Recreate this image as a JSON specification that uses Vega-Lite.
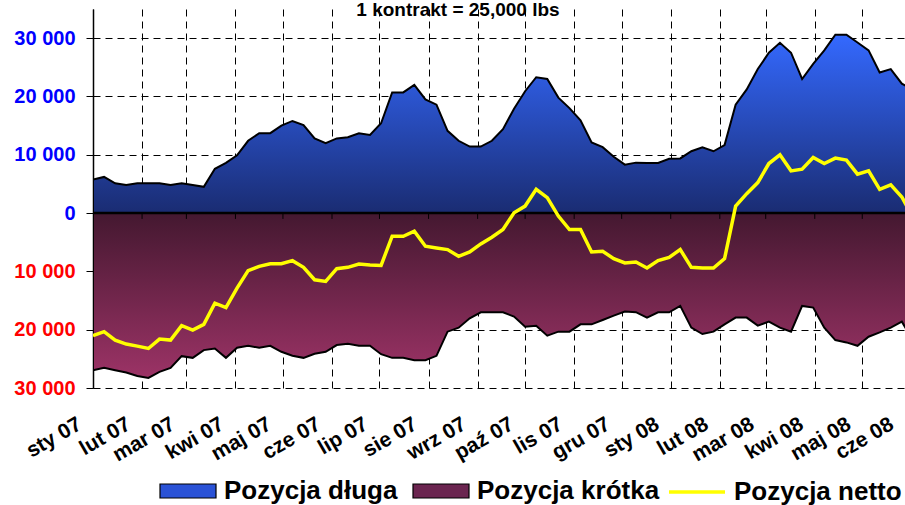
{
  "$schema": "https://vega.github.io/schema/vega-lite/v6.json",
  "width": 812,
  "height": 379,
  "autosize": {"type": "none"},
  "padding": {"left": 93, "top": 9, "right": 0, "bottom": 117},
  "background": "white",
  "config": {"view": {"stroke": null}, "font": "Liberation Sans"},
  "title": {"text": "1 kontrakt = 25,000 lbs", "fontSize": 19, "fontWeight": "bold", "color": "black", "font": "Liberation Sans", "anchor": "middle", "frame": "group", "baseline": "alphabetic", "offset": -26, "dx": -41},
  "datasets": {
    "cot": [
      {"d": "2007/01/01", "long": 5750, "short": -26950, "net": -21030},
      {"d": "2007/01/08", "long": 6200, "short": -26550, "net": -20340},
      {"d": "2007/01/15", "long": 5100, "short": -26950, "net": -21780},
      {"d": "2007/01/22", "long": 4800, "short": -27350, "net": -22470},
      {"d": "2007/01/29", "long": 5100, "short": -27930, "net": -22820},
      {"d": "2007/02/05", "long": 5100, "short": -28280, "net": -23220},
      {"d": "2007/02/12", "long": 5100, "short": -27240, "net": -21610},
      {"d": "2007/02/19", "long": 4800, "short": -26550, "net": -21780},
      {"d": "2007/02/26", "long": 5100, "short": -24540, "net": -19310},
      {"d": "2007/03/05", "long": 4800, "short": -24830, "net": -20060},
      {"d": "2007/03/12", "long": 4500, "short": -23500, "net": -19080},
      {"d": "2007/03/19", "long": 7600, "short": -23220, "net": -15460},
      {"d": "2007/03/26", "long": 8600, "short": -24830, "net": -16210},
      {"d": "2007/04/02", "long": 9900, "short": -23100, "net": -12870},
      {"d": "2007/04/09", "long": 12400, "short": -22760, "net": -9880},
      {"d": "2007/04/16", "long": 13700, "short": -23100, "net": -9140},
      {"d": "2007/04/23", "long": 13700, "short": -22760, "net": -8680},
      {"d": "2007/04/30", "long": 15000, "short": -23790, "net": -8680},
      {"d": "2007/05/07", "long": 15800, "short": -24480, "net": -8160},
      {"d": "2007/05/14", "long": 15100, "short": -24830, "net": -9310},
      {"d": "2007/05/21", "long": 12800, "short": -24140, "net": -11440},
      {"d": "2007/05/28", "long": 12000, "short": -23790, "net": -11720},
      {"d": "2007/06/04", "long": 12800, "short": -22640, "net": -9540},
      {"d": "2007/06/11", "long": 13000, "short": -22410, "net": -9310},
      {"d": "2007/06/18", "long": 13700, "short": -22760, "net": -8740},
      {"d": "2007/06/25", "long": 13400, "short": -22760, "net": -8900},
      {"d": "2007/07/02", "long": 15400, "short": -24200, "net": -8970},
      {"d": "2007/07/09", "long": 20700, "short": -24830, "net": -3970},
      {"d": "2007/07/16", "long": 20700, "short": -24830, "net": -3970},
      {"d": "2007/07/23", "long": 22000, "short": -25230, "net": -3100},
      {"d": "2007/07/30", "long": 19500, "short": -25230, "net": -5690},
      {"d": "2007/08/06", "long": 18600, "short": -24480, "net": -5980},
      {"d": "2007/08/13", "long": 14100, "short": -20340, "net": -6260},
      {"d": "2007/08/20", "long": 12400, "short": -19650, "net": -7410},
      {"d": "2007/08/27", "long": 11400, "short": -18050, "net": -6670},
      {"d": "2007/09/03", "long": 11400, "short": -17010, "net": -5290},
      {"d": "2007/09/10", "long": 12400, "short": -17010, "net": -4140},
      {"d": "2007/09/17", "long": 14400, "short": -17010, "net": -2820},
      {"d": "2007/09/24", "long": 17900, "short": -17760, "net": 60},
      {"d": "2007/10/01", "long": 20900, "short": -19480, "net": 1200},
      {"d": "2007/10/08", "long": 23300, "short": -19310, "net": 4080},
      {"d": "2007/10/15", "long": 23000, "short": -21030, "net": 2640},
      {"d": "2007/10/22", "long": 19800, "short": -20340, "net": -520},
      {"d": "2007/10/29", "long": 18000, "short": -20340, "net": -2820},
      {"d": "2007/11/05", "long": 15900, "short": -19080, "net": -2820},
      {"d": "2007/11/12", "long": 12100, "short": -19080, "net": -6670},
      {"d": "2007/11/19", "long": 11300, "short": -18330, "net": -6550},
      {"d": "2007/11/26", "long": 9650, "short": -17590, "net": -7820},
      {"d": "2007/12/03", "long": 8300, "short": -16900, "net": -8560},
      {"d": "2007/12/10", "long": 8650, "short": -17000, "net": -8400},
      {"d": "2007/12/17", "long": 8600, "short": -17930, "net": -9420},
      {"d": "2007/12/24", "long": 8600, "short": -17010, "net": -8160},
      {"d": "2007/12/31", "long": 9300, "short": -17010, "net": -7590},
      {"d": "2008/01/07", "long": 9370, "short": -15920, "net": -6260},
      {"d": "2008/01/14", "long": 10600, "short": -19650, "net": -9310},
      {"d": "2008/01/21", "long": 11260, "short": -20750, "net": -9420},
      {"d": "2008/01/28", "long": 10600, "short": -20340, "net": -9420},
      {"d": "2008/02/04", "long": 11670, "short": -19080, "net": -7820},
      {"d": "2008/02/11", "long": 18600, "short": -17930, "net": 1210},
      {"d": "2008/02/18", "long": 21200, "short": -17930, "net": 3330},
      {"d": "2008/02/25", "long": 24700, "short": -19310, "net": 5230},
      {"d": "2008/03/03", "long": 27500, "short": -18620, "net": 8500},
      {"d": "2008/03/10", "long": 29200, "short": -19650, "net": 10000},
      {"d": "2008/03/17", "long": 27500, "short": -20340, "net": 7240},
      {"d": "2008/03/24", "long": 23000, "short": -15920, "net": 7530},
      {"d": "2008/03/31", "long": 25600, "short": -16210, "net": 9540},
      {"d": "2008/04/07", "long": 27900, "short": -19650, "net": 8500},
      {"d": "2008/04/14", "long": 30600, "short": -21780, "net": 9430},
      {"d": "2008/04/21", "long": 30600, "short": -22180, "net": 9080},
      {"d": "2008/04/28", "long": 29250, "short": -22760, "net": 6670},
      {"d": "2008/05/05", "long": 27900, "short": -21210, "net": 7240},
      {"d": "2008/05/12", "long": 24100, "short": -20460, "net": 4080},
      {"d": "2008/05/19", "long": 24700, "short": -19650, "net": 4830},
      {"d": "2008/05/26", "long": 22200, "short": -18620, "net": 2760},
      {"d": "2008/06/02", "long": 21100, "short": -21800, "net": -700}
    ],
    "months": [
      {"m": "2007/02/01"}, {"m": "2007/03/01"}, {"m": "2007/04/01"}, {"m": "2007/05/01"},
      {"m": "2007/06/01"}, {"m": "2007/07/01"}, {"m": "2007/08/01"}, {"m": "2007/09/01"},
      {"m": "2007/10/01"}, {"m": "2007/11/01"}, {"m": "2007/12/01"}, {"m": "2008/01/01"},
      {"m": "2008/02/01"}, {"m": "2008/03/01"}, {"m": "2008/04/01"}, {"m": "2008/05/01"}
    ]
  },
  "data": {"name": "cot"},
  "layer": [
    {
      "mark": {"type": "area", "clip": true, "opacity": 0},
      "encoding": {
        "x": {
          "field": "d", "type": "temporal", "title": null,
          "scale": {"domain": [{"year": 2007, "month": 1, "date": 1}, {"year": 2008, "month": 5, "date": 28}]},
          "axis": {
            "values": [
              {"year": 2007, "month": 1, "date": 1}, {"year": 2007, "month": 2, "date": 1}, {"year": 2007, "month": 3, "date": 1},
              {"year": 2007, "month": 4, "date": 1}, {"year": 2007, "month": 5, "date": 1}, {"year": 2007, "month": 6, "date": 1},
              {"year": 2007, "month": 7, "date": 1}, {"year": 2007, "month": 8, "date": 1}, {"year": 2007, "month": 9, "date": 1},
              {"year": 2007, "month": 10, "date": 1}, {"year": 2007, "month": 11, "date": 1}, {"year": 2007, "month": 12, "date": 1},
              {"year": 2008, "month": 1, "date": 1}, {"year": 2008, "month": 2, "date": 1}, {"year": 2008, "month": 3, "date": 1},
              {"year": 2008, "month": 4, "date": 1}, {"year": 2008, "month": 5, "date": 1}, {"year": 2008, "month": 5, "date": 28}
            ],
            "labelExpr": "['sty','lut','mar','kwi','maj','cze','lip','sie','wrz','paź','lis','gru'][month(time(datum.value) + 864000000)] + ' ' + timeFormat(time(datum.value) + 864000000, '%y')",
            "labelAngle": -30,
            "labelAlign": "right",
            "labelBaseline": "top",
            "labelPadding": 25,
            "labelOffset": -19,
            "labelFont": "Liberation Sans",
            "labelFontSize": 21,
            "labelFontWeight": "bold",
            "labelColor": "black",
            "labelOverlap": false,
            "labelFlush": false,
            "labelBound": false,
            "labelLimit": 0,
            "ticks": false,
            "domain": false,
            "grid": true,
            "gridColor": {"condition": {"test": "month(datum.value) == 4 && date(datum.value) > 20", "value": "transparent"}, "value": "black"},
            "gridDash": [7, 5],
            "gridWidth": 1,
            "gridOpacity": 1
          }
        },
        "y": {
          "field": "long", "type": "quantitative", "title": null,
          "scale": {"domain": [-30000, 35000], "nice": false, "zero": false},
          "axis": {
            "values": [-30000, -20000, -10000, 0, 10000, 20000, 30000],
            "labelExpr": "replace(format(abs(datum.value), ',d'), ',', ' ')",
            "labelColor": {"condition": {"test": "datum.value < 0", "value": "#FF0000"}, "value": "#0000FF"},
            "labelFont": "Liberation Sans",
            "labelFontSize": 20,
            "labelFontWeight": "bold",
            "labelPadding": 11,
            "tickSize": 7,
            "tickColor": "black",
            "domainColor": "black",
            "domainWidth": 1.5,
            "grid": true,
            "gridColor": "black",
            "gridDash": [7, 5],
            "gridWidth": 1,
            "gridOpacity": 1
          }
        },
        "color": {
          "datum": "Pozycja długa", "type": "nominal",
          "scale": {"domain": ["Pozycja długa", "Pozycja krótka"], "range": ["#2A52D6", "#6B2550"]},
          "legend": {
            "orient": "none",
            "legendX": 66,
            "legendY": 467,
            "direction": "horizontal",
            "title": null,
            "padding": 0,
            "labelFont": "Liberation Sans",
            "labelFontSize": 26,
            "labelFontWeight": "bold",
            "labelColor": "black",
            "labelLimit": 0,
            "symbolType": "M-1,-0.5H3V0.5H-1Z",
            "symbolSize": 784,
            "symbolOpacity": 1,
            "symbolStrokeColor": "black",
            "symbolStrokeWidth": 1.2,
            "labelOffset": 35,
            "columnPadding": 12
          }
        }
      }
    },
    {
      "mark": {"type": "area", "clip": true, "opacity": 0},
      "encoding": {
        "x": {"field": "d", "type": "temporal", "title": null},
        "y": {"field": "short", "type": "quantitative", "title": null},
        "color": {"datum": "Pozycja krótka", "type": "nominal"}
      }
    },
    {
      "mark": {
        "type": "area", "clip": true, "stroke": "black", "strokeWidth": 2,
        "fill": {"gradient": "linear", "x1": 0, "y1": 0, "x2": 0, "y2": 1, "stops": [{"offset": 0, "color": "#3469FF"}, {"offset": 1, "color": "#1A2C72"}]}
      },
      "encoding": {
        "x": {"field": "d", "type": "temporal", "title": null},
        "y": {"field": "long", "type": "quantitative", "title": null}
      }
    },
    {
      "mark": {
        "type": "area", "clip": true, "stroke": "black", "strokeWidth": 2,
        "fill": {"gradient": "linear", "x1": 0, "y1": 0, "x2": 0, "y2": 1, "stops": [{"offset": 0, "color": "#441830"}, {"offset": 1, "color": "#9C3366"}]}
      },
      "encoding": {
        "x": {"field": "d", "type": "temporal", "title": null},
        "y": {"field": "short", "type": "quantitative", "title": null}
      }
    },
    {
      "data": {"values": [{}]},
      "mark": {"type": "rule", "color": "black", "strokeWidth": 2.5},
      "encoding": {"y": {"datum": 0, "type": "quantitative", "title": null}}
    },
    {
      "data": {"name": "months"},
      "mark": {"type": "rule", "color": "black", "strokeWidth": 1},
      "encoding": {
        "x": {"field": "m", "type": "temporal", "title": null},
        "y": {"datum": 0, "type": "quantitative", "title": null},
        "y2": {"datum": -1000}
      }
    },
    {
      "mark": {"type": "line", "clip": true, "strokeWidth": 3.5},
      "encoding": {
        "x": {"field": "d", "type": "temporal", "title": null},
        "y": {"field": "net", "type": "quantitative", "title": null},
        "stroke": {
          "datum": "Pozycja netto", "type": "nominal",
          "scale": {"domain": ["Pozycja netto"], "range": ["#FFFF00"]},
          "legend": {
            "orient": "none",
            "legendX": 574,
            "legendY": 467,
            "direction": "horizontal",
            "title": null,
            "padding": 0,
            "labelFont": "Liberation Sans",
            "labelFontSize": 26,
            "labelFontWeight": "bold",
            "labelColor": "black",
            "labelLimit": 0,
            "symbolType": "M-1,0H3",
            "symbolSize": 784,
            "symbolStrokeWidth": 3.5,
            "labelOffset": 35
          }
        }
      }
    }
  ]
}
